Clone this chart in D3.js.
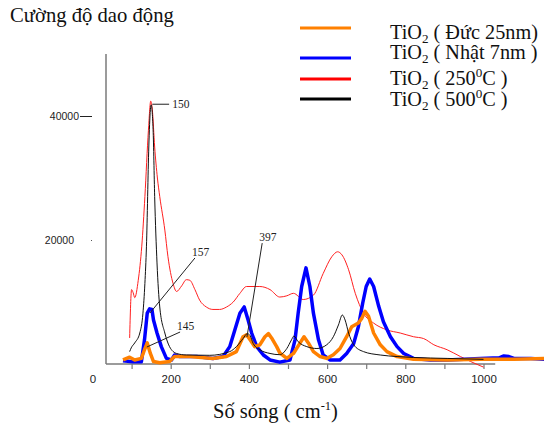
<!DOCTYPE html>
<html><head><meta charset="utf-8">
<script src="https://cdn.jsdelivr.net/npm/d3@7"></script>
<style>body{margin:0;background:#fff}svg{display:block}</style>
</head><body>
<svg id="c" width="544" height="425"></svg>
<script>
// ---- data (wavenumber cm-1, intensity) ----
const seriesNames = ["TiO2 ( Đức 25nm)", "TiO2 ( Nhật 7nm )", "TiO2 ( 250⁰C )", "TiO2 ( 500⁰C )"];
const orange = [[78,650],[95,1100],[108,650],[125,900],[133,2300],[140,3400],[148,1700],[156,400],[172,200],[197,400],[210,1200],[249,1200],[308,900],[343,1200],[368,2000],[385,4400],[394,4700],[403,3900],[415,2800],[428,3100],[441,4400],[450,4900],[458,4200],[471,2800],[479,1800],[497,900],[514,1700],[531,3400],[541,4400],[552,3400],[565,2000],[582,1200],[599,900],[616,1500],[633,2500],[650,4400],[663,6000],[680,6600],[689,7400],[697,8500],[706,7700],[719,5000],[736,3100],[753,2000],[779,1200],[821,750],[907,650],[992,750],[1078,750],[1160,900]];
const blue = [[78,540],[103,370],[125,370],[133,3900],[140,8200],[146,8900],[152,8800],[156,7100],[165,5000],[176,2800],[189,900],[202,650],[210,1450],[223,1200],[266,1200],[308,900],[334,1200],[351,2800],[364,5500],[377,8200],[388,9200],[398,7100],[407,5000],[420,2800],[437,1450],[454,650],[479,300],[505,650],[518,3900],[526,8200],[535,12500],[546,15500],[556,12500],[565,8200],[578,3900],[590,1450],[608,650],[633,650],[650,1700],[668,3300],[680,6000],[691,9800],[700,12500],[709,13700],[719,12500],[732,9300],[744,6800],[762,4400],[779,2800],[796,1700],[821,900],[864,650],[907,650],[992,900],[1040,1000],[1052,1300],[1065,1200],[1078,900],[1121,900],[1160,750]];
const red = [[95,4200],[100,12000],[104,11500],[108,10700],[117,13500],[126,19000],[134,27000],[143,37700],[149,42400],[153,41000],[159,35000],[166,30000],[172,27000],[185,21600],[193,17300],[206,13000],[215,11700],[228,12600],[240,13600],[249,13500],[262,12000],[274,10300],[291,9200],[308,8800],[325,8800],[343,9200],[360,10000],[377,11400],[394,12500],[428,12500],[454,12000],[479,10800],[497,11000],[514,11400],[539,10400],[565,11100],[590,14600],[612,17300],[627,18100],[638,17600],[655,15200],[672,11400],[693,8200],[719,6600],[753,5500],[787,5000],[821,4400],[847,4100],[873,3100],[907,2300],[941,1200],[967,400],[1000,-500]];
const black = [[95,2000],[99,2600],[108,3400],[121,5000],[129,8200],[134,13000],[138,19000],[144,35000],[148,41000],[150,41800],[155,37800],[159,27000],[165,16300],[172,9200],[185,5000],[197,2800],[215,1700],[240,1450],[300,1400],[351,2000],[368,2800],[385,4100],[396,4900],[403,4600],[411,3300],[428,2300],[454,1700],[479,1500],[497,2500],[509,3900],[515,4500],[526,3600],[548,2800],[574,2500],[599,3100],[616,4400],[629,6300],[639,7900],[646,7100],[655,5000],[668,3100],[693,2000],[736,1450],[779,1200],[821,1050],[907,900],[1000,750]];
const xTicks = [0,100,200,300,400,500,600,700,800,900,1000];
const yTicks = [20000, 40000];
// peak annotations: label, point on curve [x,y], label anchor [x,y]
const annotations = [
  {label:"150", from:[153,41900], to:[196,41900]},
  {label:"157", from:[147,8230], to:[262,17100]},
  {label:"145", from:[139,2740], to:[224,5160]},
  {label:"397", from:[395,4350], to:[434,19500]}
];

const svg = d3.select("#c");
const x = d3.scaleLinear().domain([0,1000]).range([92.5,483.5]);
const y = d3.scaleLinear().domain([0,50000]).range([364,54]);
const serif = "'Liberation Serif','Times New Roman',serif";
const sans = "'Liberation Sans',Arial,sans-serif";

// scale a text's font-size so that its rendered width matches a target width
function fit(sel, target) {
  const w = sel.node().getBBox().width;
  if (w > 0) {
    const k = target / w;
    sel.attr("font-size", +sel.attr("font-size") * k);
    sel.selectAll("tspan").each(function(){
      const t = d3.select(this);
      if (t.attr("font-size")) t.attr("font-size", +t.attr("font-size") * k);
      if (t.attr("dy")) t.attr("dy", +t.attr("dy") * k);
    });
  }
  return sel;
}

// axes lines
svg.append("line").attr("x1",106).attr("x2",106).attr("y1",y(50000)).attr("y2",y(0))
  .attr("stroke","#7a7a7a").attr("stroke-width",1.5);
svg.append("line").attr("x1",106).attr("x2",x(1030)).attr("y1",y(0)).attr("y2",y(0))
  .attr("stroke","#7a7a7a").attr("stroke-width",1.5);

// x axis
const xa = svg.append("g").attr("transform",`translate(0,${y(0)})`)
  .call(d3.axisBottom(x).tickValues(xTicks).tickSize(5).tickPadding(6)
    .tickFormat(d => d % 200 === 0 ? String(d) : ""));
xa.select(".domain").remove();
xa.selectAll(".tick line").attr("stroke","#7a7a7a").attr("stroke-width",1.2)
  .filter(d => d === 0).remove();
xa.selectAll(".tick text").attr("font-family",sans).attr("font-size",11.5).attr("fill","#222");

// y axis
const ya = svg.append("g").attr("transform","translate(93,0)")
  .call(d3.axisLeft(y).tickValues(yTicks).tickSize(0).tickPadding(14).tickFormat(d => String(d)));
ya.select(".domain").remove();
ya.selectAll(".tick text").attr("font-family",sans).attr("font-size",10.5).attr("fill","#222")
  .attr("dx", d => d === 20000 ? -5 : 0);
ya.selectAll(".tick").each(function(d){
  const g = d3.select(this);
  if (d === 40000) g.append("line").attr("x1",-13).attr("x2",-1).attr("stroke","#222").attr("stroke-width",1);
  else g.append("line").attr("x1",-2).attr("x2",-1).attr("stroke","#555").attr("stroke-width",1);
});

// series
const line = d3.line().x(d => x(d[0])).y(d => y(d[1]));
const smooth = d3.line().x(d => x(d[0])).y(d => y(d[1])).curve(d3.curveMonotoneX);
const plot = svg.append("g");
plot.append("path").datum(red).attr("d",smooth).attr("fill","none").attr("stroke","#ff2020").attr("stroke-width",1);
plot.append("path").datum(blue).attr("d",line).attr("fill","none").attr("stroke","#0000ff").attr("stroke-width",3.5).attr("stroke-linejoin","round");
plot.append("path").datum(orange).attr("d",line).attr("fill","none").attr("stroke","#ff8000").attr("stroke-width",3.5).attr("stroke-linejoin","round");
plot.append("path").datum(black).attr("d",smooth).attr("fill","none").attr("stroke","#111").attr("stroke-width",1);

// annotations
annotations.forEach(a => {
  svg.append("line").attr("x1",x(a.from[0])).attr("y1",y(a.from[1]))
    .attr("x2",x(a.to[0])).attr("y2",y(a.to[1])).attr("stroke","#222").attr("stroke-width",1);
  const hor = a.from[1] === a.to[1];
  svg.append("text").attr("x", x(a.to[0]) + (hor ? 3 : -3)).attr("y", y(a.to[1]) + (hor ? 4 : -2))
    .attr("font-family",serif).attr("font-size",11.5).attr("fill","#222").text(a.label);
});

// titles
const tt = svg.append("text").attr("x",10).attr("y",22).attr("font-family",serif).attr("font-size",18)
  .attr("fill","#111").text("Cường độ dao động");
fit(tt, 164);
const xt = svg.append("text").attr("x",213).attr("y",418).attr("font-family",serif).attr("font-size",18).attr("fill","#111");
xt.append("tspan").text("Số sóng ( cm");
xt.append("tspan").attr("font-size",11).attr("dy",-7).text("-1");
xt.append("tspan").attr("dy",7).text(")");
fit(xt, 125);

// legend
const legColors = ["#ff8000","#0000ff","#ff0000","#000000"];
const legLineY = [28,58,79,99];
const legTextY = [39,59,85,106];
const legTexts = [];
seriesNames.forEach((name,i) => {
  svg.append("line").attr("x1",300).attr("x2",351).attr("y1",legLineY[i]).attr("y2",legLineY[i])
    .attr("stroke",legColors[i]).attr("stroke-width",3);
  const t = svg.append("text").attr("x",390).attr("y",legTextY[i]).attr("font-family",serif)
    .attr("font-size",17).attr("fill","#111");
  const rest = name.slice(4);
  t.append("tspan").text("TiO");
  t.append("tspan").attr("font-size",11).attr("dy",3).text("2");
  if (rest.includes("⁰")) {
    const [a,b] = rest.split("⁰");
    t.append("tspan").attr("dy",-3).text(a);
    t.append("tspan").attr("font-size",11).attr("dy",-7).text("0");
    t.append("tspan").attr("dy",7).text(b);
  } else {
    t.append("tspan").attr("dy",-3).text(rest);
  }
  legTexts.push(t);
});
const k0 = 148 / legTexts[0].node().getBBox().width;
legTexts.forEach(t => {
  t.attr("font-size", 17 * k0);
  t.selectAll("tspan").each(function(){
    const s = d3.select(this);
    if (s.attr("font-size")) s.attr("font-size", +s.attr("font-size") * k0);
    if (s.attr("dy")) s.attr("dy", +s.attr("dy") * k0);
  });
});
</script>
</body></html>
